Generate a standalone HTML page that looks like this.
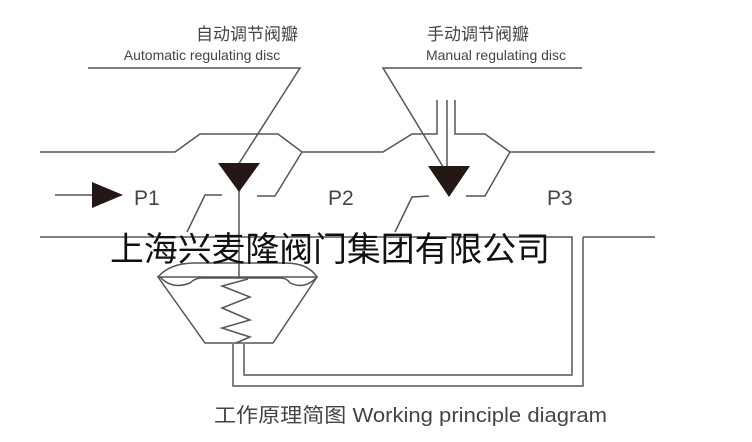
<!DOCTYPE html>
<html><head><meta charset="utf-8"><style>
body{margin:0;background:#fff;width:752px;height:442px;overflow:hidden}
svg{display:block}
</style></head><body>
<svg width="752" height="442" viewBox="0 0 752 442" xmlns="http://www.w3.org/2000/svg">
<g fill="none" stroke="#555" stroke-width="1.5">
<polyline points="40,152 175,152 200,134 278,134 302,152 383,152 412,134 437,134 437,100"/>
<polyline points="455,100 455,134 485,134 510,152 655,152"/>
<polyline points="302,152 275,196 257,196"/>
<polyline points="222,195 205,195 187,232"/>
<polyline points="510,152 485,196 466,196"/>
<polyline points="429,196 412,197 395,232"/>
<polyline points="40,237 572,237 572,375 244,375 244,344"/>
<polyline points="583,237 655,237"/>
<polyline points="583,237 583,386 233,386 233,344"/>
<polyline points="88,68 300,68 238,165"/>
<polyline points="582,68 383,68 445,170"/>
<line x1="447" y1="100" x2="447" y2="175"/>
<line x1="239" y1="185" x2="239" y2="278"/>
<line x1="55" y1="195" x2="95" y2="195"/>
<polygon points="158,277 317,277 273,343 205,343"/>
<path d="M158,277 Q170,263 195,263 L285,263 Q308,263 317,277"/>
<path d="M160,277 Q172,290 190,283 Q195,278 202,278 L280,278 Q287,278 290,283 Q305,290 317,277"/>
<polyline points="248,279 222,286 250,297 222,308 250,320 222,328 250,337 236,343"/>
</g>
<polygon points="218,163 260,163 239,192" fill="#231815"/>
<polygon points="428,166 470,166 449,197" fill="#231815"/>
<polygon points="92,182 123,195 92,208" fill="#231815"/>
<g font-family="'Liberation Sans','Noto Sans CJK SC',sans-serif" fill="#444">
<text x="247" y="40" font-size="17" text-anchor="middle">自动调节阀瓣</text>
<text x="202" y="60" font-size="14" text-anchor="middle">Automatic regulating disc</text>
<text x="478" y="40" font-size="17" text-anchor="middle">手动调节阀瓣</text>
<text x="496" y="60" font-size="14" text-anchor="middle">Manual regulating disc</text>
<text x="134" y="205" font-size="21">P1</text>
<text x="328" y="205" font-size="21">P2</text>
<text x="547" y="205" font-size="21">P3</text>
<text x="214" y="422" font-size="20" textLength="393" lengthAdjust="spacingAndGlyphs">工作原理简图 Working principle diagram</text>
</g>
<text x="110" y="261" font-family="'Liberation Sans','Noto Sans CJK SC',sans-serif" font-size="34" fill="#111" textLength="440" lengthAdjust="spacingAndGlyphs">上海兴麦隆阀门集团有限公司</text>
</svg>
</body></html>
